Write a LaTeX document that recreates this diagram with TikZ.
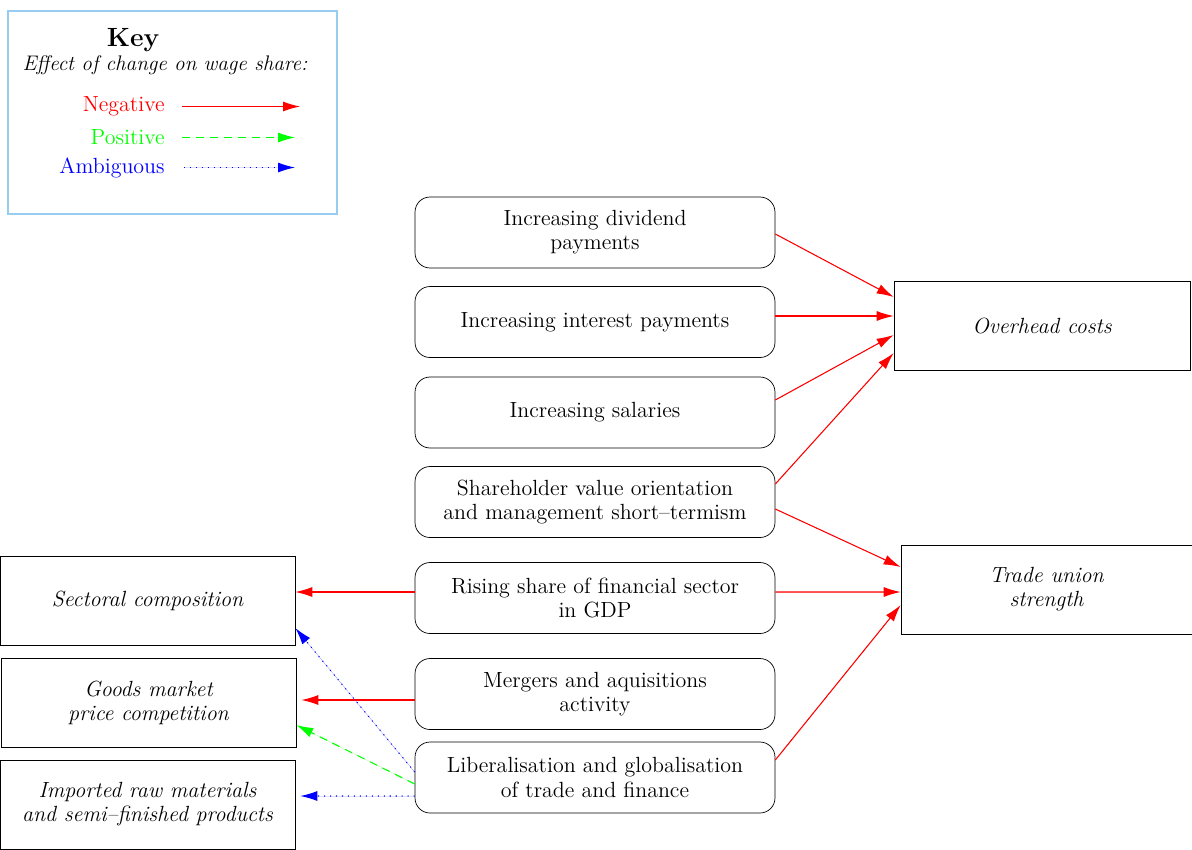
\documentclass[tikz,border=0pt]{standalone}
\usetikzlibrary{arrows.meta,calc}
\definecolor{keyblue}{RGB}{150,205,240}
\tikzset{
	basefont/.style={font=\fontsize{12.5}{13.7}\selectfont},
	cause/.style={basefont, draw, rounded corners=0.3cm, align=center,
		minimum width=7.2cm, minimum height=1.42cm, inner sep=0pt},
	effect/.style={basefont, draw, align=center, font=\fontsize{12.5}{13.7}\selectfont\itshape,
		minimum width=5.9cm, minimum height=1.78cm, inner sep=0pt},
	keylabel/.style={basefont, anchor=east, inner sep=0pt},
	link/.style={line width=0.6pt, -{Latex[length=0.34cm,width=0.2cm]}},
	negative/.style={link, draw=red, fill=red},
	positive/.style={link, draw=green, fill=green, dash pattern=on 0.16cm off 0.12cm},
	ambiguous/.style={link, draw=blue, fill=blue, dash pattern=on 0.6pt off 2.8pt},
}

\begin{document}
\begin{tikzpicture}[x=0.02cm, y=-0.02cm]
	\useasboundingbox (0,0) rectangle (1192,849);
	
	% key
	\draw[keyblue, line width=0.6pt] (8,11) rectangle (337,214);
	\node[font=\fontsize{15}{17}\selectfont\bfseries] (keytitle) at (133,40) {Key};
	\node[font=\fontsize{12}{13.7}\selectfont\itshape] (keysub) at (165,65) {Effect of change on wage share:};
	\node[keylabel, text=red] (keyneg) at (165,106.5) {Negative};
	\node[keylabel, text=green] (keypos) at (165,137.5) {Positive};
	\node[keylabel, text=blue] (keyamb) at (165,167.5) {Ambiguous};
	\coordinate (keyneg end) at (300,106.5);
	\coordinate (keypos end) at (295,137.5);
	\coordinate (keyamb end) at (295,167.5);
	\draw[negative] ($(keyneg.east)+(17,0)$) -- (keyneg end);
	\draw[positive] ($(keypos.east)+(17,0)$) -- (keypos end);
	\draw[ambiguous] ($(keyamb.east)+(19,0)$) -- (keyamb end);
	
	% causes
	\node[cause] (div) at (595,232.5) {Increasing dividend\\payments};
	\node[cause] (int) at (595,322) {Increasing interest payments};
	\node[cause] (sal) at (595,412.5) {Increasing salaries};
	\node[cause] (shv) at (595,502) {Shareholder value orientation\\and management short--termism};
	\node[cause] (fin) at (595,598) {Rising share of financial sector\\in GDP};
	\node[cause] (mna) at (595,694) {Mergers and aquisitions\\activity};
	\node[cause] (lib) at (595,777.5) {Liberalisation and globalisation\\of trade and finance};
	
	% effects
	\node[effect, minimum width=5.92cm] (ovh) at (1042,325.5) {Overhead costs};
	\node[effect, minimum width=5.82cm] (tus) at (1046.5,589.5) {Trade union\\strength};
	\node[effect] (sec) at (147.5,600.5) {Sectoral composition};
	\node[effect] (gds) at (148.5,702.5) {Goods market\\price competition};
	\node[effect] (imp) at (147.5,804.5) {Imported raw materials\\and semi--finished products};
	
	% links to the right
	\draw[negative] ($(div.east)+(0,1.5)$) -- ($(ovh.west)+(0,-28.5)$);
	\draw[negative] ($(int.east)+(0,-6)$) -- ($(ovh.west)+(0,-9.5)$);
	\draw[negative] ($(sal.east)+(0,-12.5)$) -- ($(ovh.west)+(0,9.5)$);
	\draw[negative] ($(shv.east)+(0,-18)$) -- ($(ovh.west)+(0,27.5)$);
	\draw[negative] ($(shv.east)+(0,7)$) -- ($(tus.west)+(0,-22.5)$);
	\draw[negative] ($(fin.east)+(0,-6)$) -- ($(tus.west)+(0,2.5)$);
	\draw[negative] ($(lib.east)+(0,-17.5)$) -- ($(tus.west)+(0,15.5)$);
	
	% links to the left
	\draw[negative] ($(fin.west)+(0,-6)$) -- ($(sec.east)+(0,-8.5)$);
	\draw[negative] ($(mna.west)+(0,6)$) -- ($(gds.east)+(5,-2.5)$);
	\draw[ambiguous] ($(lib.west)+(0,-5.5)$) -- ($(sec.east)+(0,27.5)$);
	\draw[positive] ($(lib.west)+(0,6.5)$) -- ($(gds.east)+(0,22.5)$);
	\draw[ambiguous] ($(lib.west)+(0,18.5)$) -- ($(imp.east)+(5,-8.5)$);
\end{tikzpicture}
\end{document}
